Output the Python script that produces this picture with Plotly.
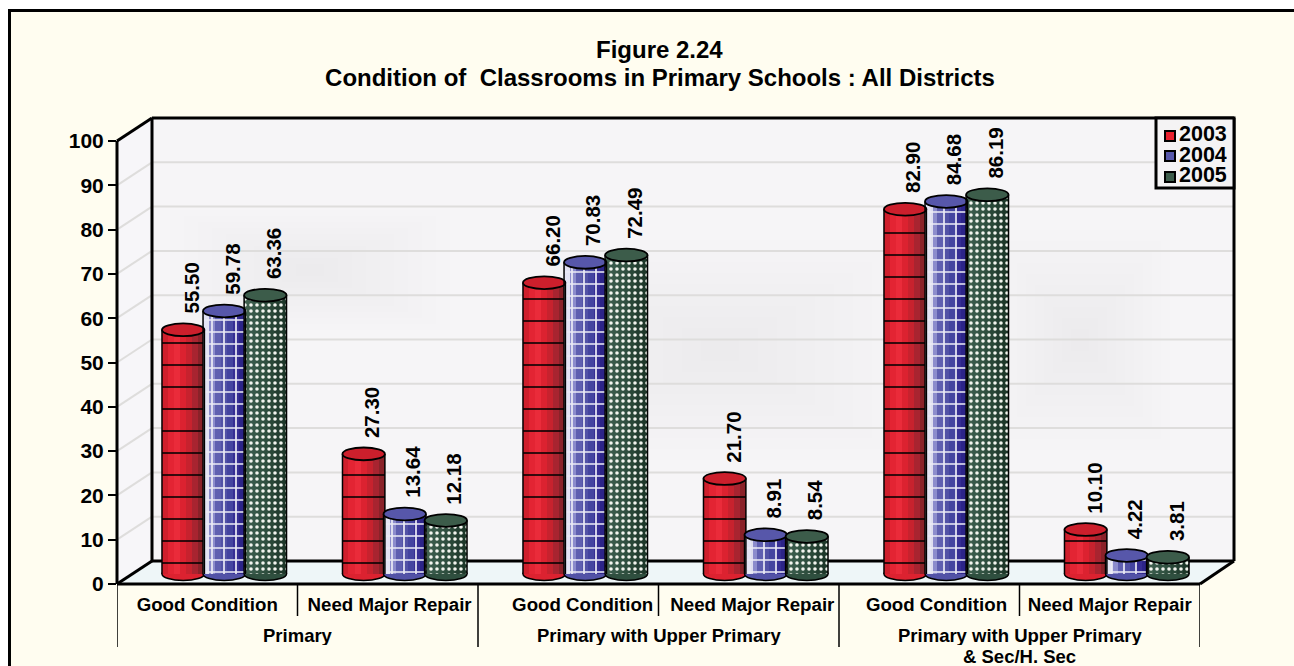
import plotly.graph_objects as go

W, H = 1294, 666
FONT = "Liberation Sans"
BG = "#FFFDF0"

years = ["2003", "2004", "2005"]
values_2003 = [55.50, 27.30, 66.20, 21.70, 82.90, 10.10]
values_2004 = [59.78, 13.64, 70.83, 8.91, 84.68, 4.22]
values_2005 = [63.36, 12.18, 72.49, 8.54, 86.19, 3.81]
sub_labels = ["Good Condition", "Need Major Repair"] * 3
sub_label_pos = [0.5, 1.51, 2.58, 3.52, 4.54, 5.5]
group_labels = ["Primary", "Primary with Upper Primary", "Primary with Upper Primary<br>& Sec/H. Sec"]
y_ticks = list(range(0, 101, 10))

shades_2003 = ["#cf1f2c", "#e32433", "#ea2b3a", "#dc2230", "#c7222e", "#a82430", "#8a2229"]
shades_2004 = ["#e4e4f4", "#8c8ccc", "#5f5fb0", "#5252a6", "#4444a0", "#352d94", "#2c2488"]
shades_2005 = ["#40604e", "#38594a", "#335443", "#2f4f3f", "#2a4838", "#243f31", "#1e382a"]
top_colors = ["#cc1f2c", "#5757aa", "#3c5c4a"]
patterns = [
    dict(shape="-", size=22, solidity=0.07, color="#000000"),
    dict(shape="+", size=12, solidity=0.26, color="#ECECF6"),
    dict(shape=".", size=6, solidity=0.28, color="#F2F4EE"),
]
all_values = [values_2003, values_2004, values_2005]
all_shades = [shades_2003, shades_2004, shades_2005]


def px(x):
    return x / W


def py(y):
    return 1 - y / H


BAR_OFF = 0.2275
BAR_W = 0.235
N = 7
strip = BAR_W / N
CAP = 2.9  # cap height, in value units

fig = go.Figure()
for s, (yr, vals, shades, pat) in enumerate(zip(years, all_values, all_shades, patterns)):
    xs, ys, cols = [], [], []
    for g, v in enumerate(vals):
        c = g + 0.5 + (s - 1) * BAR_OFF
        for k in range(N):
            xs.append(c - BAR_W / 2 + strip * (k + 0.5))
            ys.append(v)
            cols.append(shades[k])
    # the cylinder's shading
    fig.add_trace(go.Bar(x=xs, y=ys, name=yr, width=strip + 0.001, showlegend=False, xaxis="x", yaxis="y",
                         marker=dict(color=cols, line=dict(width=0))))
    # its texture, on a clear ground
    fig.add_trace(go.Bar(
        x=[g + 0.5 + (s - 1) * BAR_OFF for g in range(len(vals))], y=vals, name=yr, width=BAR_W,
        showlegend=False, xaxis="x", yaxis="y",
        marker=dict(color=pat["color"], line=dict(width=0),
                    pattern=dict(shape=pat["shape"], size=pat["size"], solidity=pat["solidity"],
                                 fillmode="replace")),
    ))
# front scale and back wall scale
fig.add_trace(go.Scatter(x=[0], y=[0], mode="markers", marker=dict(opacity=0), xaxis="x2", yaxis="y2",
                         showlegend=False, hoverinfo="skip"))
fig.add_trace(go.Scatter(x=[0], y=[0], mode="markers", marker=dict(opacity=0), xaxis="x3", yaxis="y3",
                         showlegend=False, hoverinfo="skip"))

shapes = []
# outer frame
shapes.append(dict(type="rect", xref="paper", yref="paper", layer="below",
                   x0=px(9.5), x1=px(W + 20), y0=py(H + 20), y1=py(10.5),
                   fillcolor=BG, line=dict(color="#000000", width=3)))


def poly(pts, fill):
    d = "M" + " L".join(f"{px(a):.5f},{py(b):.5f}" for a, b in pts) + " Z"
    return dict(type="path", path=d, xref="paper", yref="paper", layer="below",
                fillcolor=fill, line=dict(width=0))


shapes.append(poly([(152, 118), (1234, 118), (1234, 561), (152, 561)], "#F6F5F7"))
shapes.append(poly([(117, 141), (152, 118), (152, 561), (117, 584)], "#F7F6F9"))
shapes.append(poly([(117, 584), (152, 561), (1234, 561), (1200, 584)], "#EEF6F8"))
# soft wall shading: nested faint rectangles
for (cx, cy, rx, ry) in [(720, 350, 190, 110), (310, 270, 140, 60), (1080, 340, 90, 110)]:
    for k in range(1, 11):
        f = k / 10
        shapes.append(dict(type="rect", xref="paper", yref="paper", layer="below",
                           x0=px(cx - rx * f), x1=px(cx + rx * f), y0=py(cy + ry * f), y1=py(cy - ry * f),
                           fillcolor="#777777", opacity=0.006, line=dict(width=0)))
# back wall and side wall grid
for t in y_ticks[1:-1]:
    shapes.append(dict(type="line", xref="paper", yref="y3", layer="below",
                       x0=px(152), x1=px(1234), y0=t, y1=t, line=dict(color="#DEDDDC", width=2)))
    yf = 584 - t * 4.43
    shapes.append(dict(type="line", xref="paper", yref="paper", layer="below",
                       x0=px(117), x1=px(152), y0=py(yf), y1=py(yf - 23),
                       line=dict(color="#DEDDDC", width=2)))
# wall edges
for a, b, c, d in [(117, 141, 152, 118), (152, 118, 1234, 118), (152, 118, 152, 561), (117, 141, 117, 584),
                   (117, 584, 152, 561), (152, 561, 1234, 561), (1234, 118, 1234, 561), (1200, 584, 1234, 561),
                   (117, 584, 1200, 584)]:
    shapes.append(dict(type="line", xref="paper", yref="paper", layer="below",
                       x0=px(a), x1=px(c), y0=py(b), y1=py(d),
                       line=dict(color="#000000", width=3)))
# bottom dividers
for i in range(7):
    shapes.append(dict(type="line", xref="x2", yref="paper", x0=i, x1=i, y0=py(616), y1=py(584),
                       line=dict(color="#000000", width=1.5)))
for i in (0, 2, 4, 6):
    shapes.append(dict(type="line", xref="x2", yref="paper", x0=i, x1=i, y0=py(647), y1=py(616),
                       line=dict(color="#000000", width=1.5)))

annotations = []
for s, vals in enumerate(all_values):
    for g, v in enumerate(vals):
        c = g + 0.5 + (s - 1) * BAR_OFF
        shapes.append(dict(type="circle", xref="x", yref="y", layer="below",
                           x0=c - BAR_W / 2, x1=c + BAR_W / 2, y0=-CAP / 2, y1=CAP / 2,
                           fillcolor=all_shades[s][3], line=dict(color="#000000", width=1.5)))
        for e in (-1, 1):
            shapes.append(dict(type="line", xref="x", yref="y", x0=c + e * BAR_W / 2, x1=c + e * BAR_W / 2,
                               y0=0, y1=v, line=dict(color="#000000", width=1.5)))
        shapes.append(dict(type="circle", xref="x", yref="y",
                           x0=c - BAR_W / 2, x1=c + BAR_W / 2, y0=v - CAP / 2, y1=v + CAP / 2,
                           fillcolor=top_colors[s], line=dict(color="#000000", width=1.8)))
        annotations.append(dict(x=c, y=v, xref="x", yref="y", text=f"{v:.2f}", textangle=-90,
                                showarrow=False, xshift=8, yshift=14, yanchor="bottom", xanchor="center",
                                font=dict(family=FONT, size=20.5, color="#000000", weight="bold")))

group_x = [1.005, 3.0, 5.0]
for i, txt in enumerate(group_labels):
    for j, line in enumerate(txt.split("<br>")):
        annotations.append(dict(x=group_x[i], y=py(635 + 21 * j), xref="x2", yref="paper", text=line,
                                showarrow=False, yanchor="middle", xanchor="center", height=20,
                                font=dict(family=FONT, size=18.5, color="#000000", weight="bold")))

# legend box
shapes.append(dict(type="rect", xref="paper", yref="paper", x0=px(1156), x1=px(1234), y0=py(188), y1=py(118),
                   fillcolor="#F4F3F4", line=dict(color="#000000", width=3)))
swatch_y = [136, 156, 177]
legend_text_y = [134, 155, 175]
for i, yr in enumerate(years):
    shapes.append(dict(type="rect", xref="paper", yref="paper", x0=px(1165), x1=px(1175),
                       y0=py(swatch_y[i] + 5), y1=py(swatch_y[i] - 5), fillcolor=top_colors[i] if i else "#E8202E",
                       line=dict(color="#000000", width=2)))
    annotations.append(dict(x=px(1177), y=py(legend_text_y[i]), xref="paper", yref="paper", text=yr, showarrow=False,
                            xanchor="left", yanchor="middle", height=20,
                            font=dict(family=FONT, size=21.5, color="#000000", weight="bold")))

annotations.append(dict(x=px(660), y=py(50), xref="paper", yref="paper", text="<b>Figure 2.24</b>", showarrow=False,
                        xanchor="center", yanchor="middle", font=dict(family=FONT, size=24, color="#000000")))

fig.update_layout(
    width=W, height=H, margin=dict(l=0, r=0, t=0, b=0, autoexpand=False), autosize=False,
    paper_bgcolor="#FFFFFF", plot_bgcolor="rgba(0,0,0,0)",
    barmode="overlay", bargap=0, showlegend=False,
    title=dict(text="<b>Condition of  Classrooms in Primary Schools : All Districts</b>",
               x=px(660), xanchor="center", y=py(78), yanchor="middle", automargin=False,
               font=dict(family=FONT, size=24, color="#000000")),
    # 4.4 px per unit, 0 at y=574, 100 at y=134; the range runs below 0 so the cylinder bases are not clipped
    xaxis=dict(domain=[px(134), px(1217)], range=[0, 6], visible=False, fixedrange=True, automargin=False),
    yaxis=dict(domain=[py(574 + 4 * 4.4), py(134)], range=[-4, 100], visible=False, fixedrange=True, automargin=False),
    xaxis2=dict(domain=[px(117), px(1200)], range=[0, 6], anchor="y2", automargin=False,
                tickmode="array", tickvals=sub_label_pos, ticktext=sub_labels, ticklen=0, showgrid=False,
                ticks="", showline=False, zeroline=False, fixedrange=True, ticklabelstandoff=7,
                tickfont=dict(family=FONT, size=18.7, color="#000000", weight="bold")),
    yaxis2=dict(domain=[py(584), py(141)], range=[0, 100], anchor="x2", automargin=False,
                tickmode="array", tickvals=y_ticks, ticks="outside", ticklen=8, tickwidth=2, tickcolor="#000000",
                showgrid=False, zeroline=False, showline=False, fixedrange=True,
                tickfont=dict(family=FONT, size=21, color="#000000", weight="bold")),
    xaxis3=dict(domain=[px(152), px(1234)], range=[0, 6], anchor="y3", visible=False, fixedrange=True,
                automargin=False),
    yaxis3=dict(domain=[py(561), py(118)], range=[0, 100], anchor="x3", visible=False, showgrid=False,
                automargin=False, fixedrange=True),
    shapes=shapes, annotations=annotations,
)
fig.write_html("out.html", config={"displayModeBar": False},
               post_script="document.body.style.margin='0';document.body.style.overflow='hidden';")
